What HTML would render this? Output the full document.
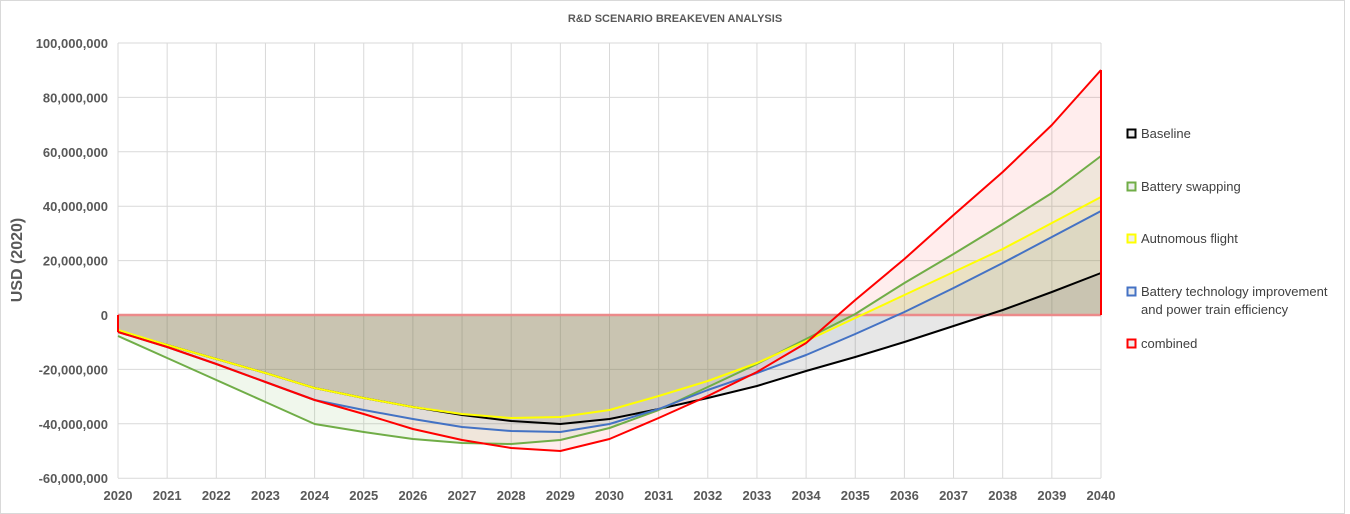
<!DOCTYPE html>
<html><head><meta charset="utf-8"><style>
body{margin:0;background:#fff;}
svg{display:block;font-family:"Liberation Sans",sans-serif;}
</style></head><body>
<svg width="1350" height="514" viewBox="0 0 1350 514" xmlns="http://www.w3.org/2000/svg">
<rect x="0.5" y="0.5" width="1344" height="513" fill="#fff" stroke="#d9d9d9"/>
<text x="675" y="22" text-anchor="middle" font-size="11" font-weight="bold" fill="#595959">R&amp;D SCENARIO BREAKEVEN ANALYSIS</text>
<g stroke="#d9d9d9" stroke-width="1" id="grid"></g>
<g id="g"></g>
<text transform="translate(22,260) rotate(-90)" text-anchor="middle" font-size="16" font-weight="bold" fill="#595959">USD (2020)</text>
<g font-size="13" fill="#404040">
<rect x="1127.5" y="129.5" width="8" height="8" fill="#eee" stroke="#000" stroke-width="2"/><text x="1141" y="138">Baseline</text>
<rect x="1127.5" y="182.5" width="8" height="8" fill="#eee" stroke="#70ad47" stroke-width="2"/><text x="1141" y="191">Battery swapping</text>
<rect x="1127.5" y="234.5" width="8" height="8" fill="#eee" stroke="#ffff00" stroke-width="2"/><text x="1141" y="243">Autnomous flight</text>
<rect x="1127.5" y="287.5" width="8" height="8" fill="#eee" stroke="#4472c4" stroke-width="2"/><text x="1141" y="296">Battery technology improvement</text><text x="1141" y="314">and power train efficiency</text>
<rect x="1127.5" y="339.5" width="8" height="8" fill="#eee" stroke="#ff0000" stroke-width="2"/><text x="1141" y="348">combined</text>
</g>
</svg>
<script>
const ns="http://www.w3.org/2000/svg";
const svg=document.querySelector('svg');const grid=document.getElementById('grid');const g=document.getElementById('g');
function el(p,t,a,txt){const e=document.createElementNS(ns,t);for(const k in a)e.setAttribute(k,a[k]);if(txt!==undefined)e.textContent=txt;p.appendChild(e);return e;}
const X=i=>118+49.15*i;
const Yv=v=>315-v*2.72;
const labs=["100,000,000","80,000,000","60,000,000","40,000,000","20,000,000","0","-20,000,000","-40,000,000","-60,000,000"];
for(let k=0;k<9;k++){const v=100-20*k,y=Yv(v);el(grid,'line',{x1:118,x2:1101,y1:y,y2:y});
el(svg,'text',{x:108,y:y+5,'text-anchor':'end','font-size':13,'font-weight':'bold',fill:'#595959'},labs[k]);}
for(let i=0;i<=20;i++){el(grid,'line',{x1:X(i),x2:X(i),y1:43,y2:478});
el(svg,'text',{x:X(i),y:500,'text-anchor':'middle','font-size':13,'font-weight':'bold',fill:'#595959'},2020+i);}
const S={
base:[331,345,359,373,388,398,407,415,421,424,419,409,398,386,371,357,342,326,310,292,273],
green:[336,358,380,402,424,432,439,443,444,440,428,410,387,364,339,314,283,254,224,193,156],
yellow:[330,345,359,373,388,398,407,414,418,417,410,396,381,363,341,318,295,272,249,223,197],
blue:[332,347,364,382,400,410,419,427,431,432,424,409,390,373,355,334,312,288,263,237,211],
red:[332,347,364,382,400,414,429,440,448,451,439,418,396,372,343,300,259,215,172,125,70]};
const fills={base:'rgba(60,60,60,0.12)',green:'rgba(112,173,71,0.10)',yellow:'rgba(210,200,60,0.15)',blue:'rgba(68,114,196,0.08)',red:'rgba(255,0,0,0.07)'};
const cols={base:'#000',green:'#70ad47',yellow:'#ffff00',blue:'#4472c4',red:'#ff0000'};
const order=['red','green','yellow','blue','base'];
for(const k of order){const pts=S[k].map((y,i)=>X(i)+','+y).join(' ');
el(g,'polygon',{points:X(0)+',315 '+pts+' '+X(20)+',315',fill:fills[k]});}
el(g,'line',{x1:118,x2:1101,y1:315,y2:315,stroke:'#ec8a8a','stroke-width':2.5});
for(const k of ['base','green','yellow','blue','red']){const pts=S[k].map((y,i)=>X(i)+','+y).join(' ');
el(g,'polyline',{points:pts,fill:'none',stroke:cols[k],'stroke-width':2,'stroke-linejoin':'round'});}
el(g,'line',{x1:X(20),x2:X(20),y1:70,y2:315,stroke:'#ff0000','stroke-width':2});
el(g,'line',{x1:X(0),x2:X(0),y1:315,y2:332,stroke:'#ff0000','stroke-width':2});
</script>
</body></html>
